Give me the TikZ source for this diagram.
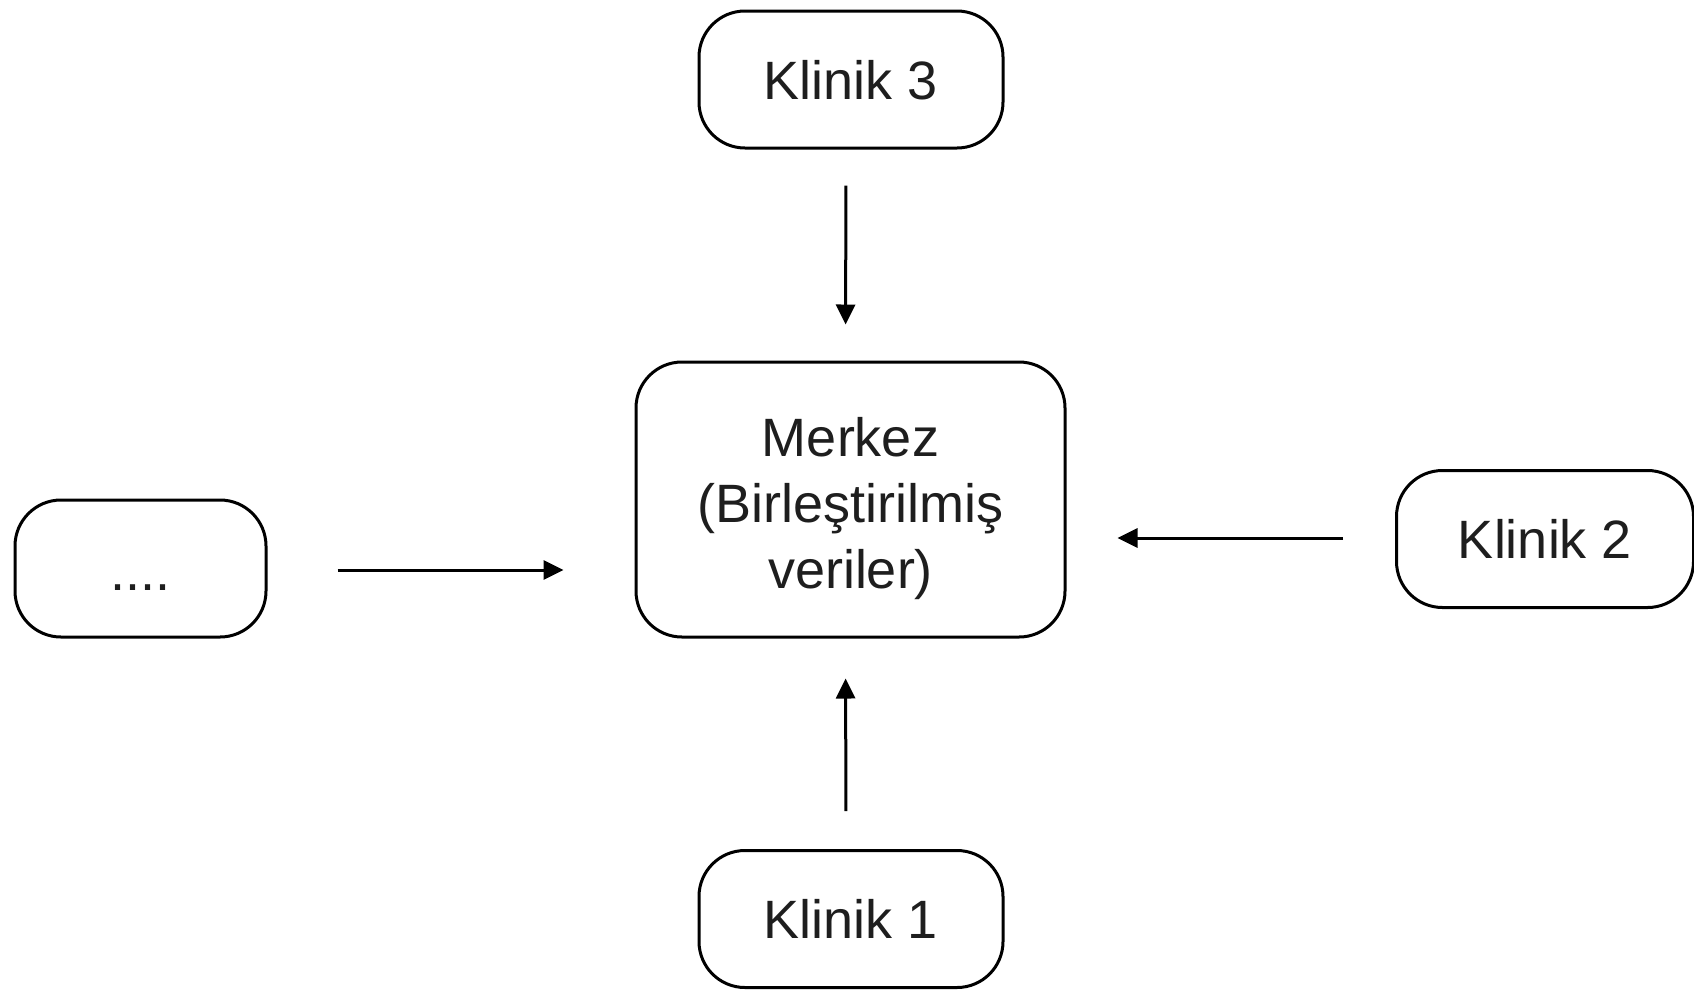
\documentclass[tikz,border=0pt]{standalone}
\usepackage{fontspec}
\setmainfont{Liberation Sans}
\usetikzlibrary{arrows.meta,calc}
\definecolor{inkgray}{HTML}{1E1E1E}
\tikzset{
  box/.style={draw=black, line width=3pt, rounded corners=46pt, fill=white,
    text=inkgray, font=\fontsize{54}{66}\selectfont, align=center,
    inner sep=0pt},
  onebox/.style={box, minimum width=304pt, minimum height=137pt,
    text height=39pt, text depth=0pt},
  flow/.style={draw=black, line width=3pt,
    -{Triangle[length=20pt,width=19pt]}}
}
\begin{document}
\begin{tikzpicture}[x=1pt,y=-1pt]
  \useasboundingbox (0,0) rectangle (1694,989);
  % central store
  \node[box, minimum width=429pt, minimum height=275pt,
        text height=179pt, text depth=2pt] (m) at (850.5,499.5)
    {Merkez\\(Birleştirilmiş\\veriler)};
  % contributing clinics
  \node[onebox] (k3) at (851,79.5) {Klinik 3};
  \node[onebox] (k1) at (851,919) {Klinik 1};
  \node[onebox, minimum width=297pt] (k2) at (1545,539) {Klinik 2};
  \node[onebox, minimum width=251pt, text height=43pt] (dots) at (140.5,568.5) {....};
  % data flows into the centre
  \draw[flow, shorten <=36pt, shorten >=36pt]
    ([xshift=-5pt]k3.south) -- ([xshift=-5pt]m.north);
  \draw[flow, shorten <=38pt, shorten >=40pt]
    ([xshift=-5pt]k1.north) -- ([xshift=-5pt]m.south);
  \draw[flow, shorten <=70pt, shorten >=71pt]
    ([yshift=-1.5pt]dots.east) -- ([yshift=-1.5pt]dots.east -| m.west);
  \draw[flow, shorten <=52pt, shorten >=51pt]
    ([yshift=1pt]k2.west) -- ([yshift=1pt]k2.west -| m.east);
\end{tikzpicture}
\end{document}
